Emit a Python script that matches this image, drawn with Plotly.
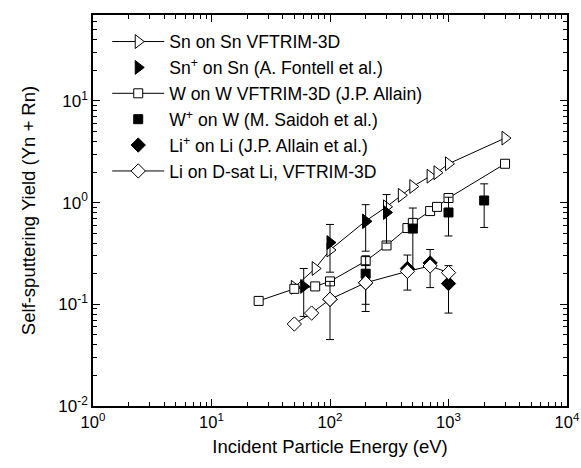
import plotly.graph_objects as go
import numpy as np

# ---- data ----
sn_vf_E = [50, 75, 100, 200, 300, 400, 500, 700, 800, 1000, 3000]
sn_vf_Y = [0.147, 0.225, 0.342, 0.66, 0.91, 1.18, 1.44, 1.82, 1.97, 2.41, 4.31]

sn_exp_E = [60, 100, 200, 300]
sn_exp_Y = [0.15, 0.405, 0.65, 0.80]
sn_exp_hi = [0.225, 0.61, 0.955, 1.2]
sn_exp_lo = [0.076, 0.207, 0.333, 0.40]

w_vf_E = [25, 50, 75, 100, 200, 300, 450, 500, 700, 800, 1000, 3000]
w_vf_Y = [0.108, 0.142, 0.15, 0.168, 0.266, 0.379, 0.562, 0.632, 0.826, 0.908, 1.11, 2.41]

w_exp_E = [200, 500, 1000, 2000]
w_exp_Y = [0.2, 0.556, 0.80, 1.05]
w_exp_hi = [0.30, 0.885, 1.13, 1.53]
w_exp_lo = [0.10, 0.22, 0.47, 0.57]

li_exp_E = [100, 200, 450, 700, 1000]
li_exp_Y = [0.112, 0.163, 0.225, 0.255, 0.16]
li_exp_hi = [0.168, 0.245, 0.305, 0.346, 0.24]
li_exp_lo = [0.045, 0.085, 0.138, 0.146, 0.082]

li_vf_E = [50, 70, 100, 200, 450, 700, 1000]
li_vf_Y = [0.064, 0.082, 0.112, 0.163, 0.211, 0.238, 0.205]

names = [
    "Sn on Sn VFTRIM-3D",
    "Sn<sup>+</sup> on Sn (A. Fontell et al.)",
    "W on W VFTRIM-3D (J.P. Allain)",
    "W<sup>+</sup> on W (M. Saidoh et al.)",
    "Li<sup>+</sup> on Li (J.P. Allain et al.)",
    "Li on D-sat Li, VFTRIM-3D",
]

x_tickvals = [1, 10, 100, 1000, 10000]
x_ticktext = ["10<sup>0</sup>", "10<sup>1</sup>", "10<sup>2</sup>", "10<sup>3</sup>", "10<sup>4</sup>"]
y_tickvals = [0.01, 0.1, 1, 10]
y_ticktext = ["10<sup>-2</sup>", "10<sup>-1</sup>", "10<sup>0</sup>", "10<sup>1</sup>"]

FONT = "Arial, Liberation Sans, sans-serif"


def err(y, hi, lo):
    return dict(type="data", symmetric=False,
                array=list(np.array(hi) - np.array(y)),
                arrayminus=list(np.array(y) - np.array(lo)),
                color="black", thickness=1, width=4)


fig = go.Figure()

fig.add_trace(go.Scatter(x=sn_vf_E, y=sn_vf_Y, mode="lines+markers", name=names[0], legendrank=1,
                         line=dict(color="black", width=1),
                         marker=dict(symbol="triangle-right", size=12, color="white",
                                     line=dict(color="black", width=1))))
fig.add_trace(go.Scatter(x=w_vf_E, y=w_vf_Y, mode="lines+markers", name=names[2], legendrank=3,
                         line=dict(color="black", width=1),
                         marker=dict(symbol="square", size=9, color="white",
                                     line=dict(color="black", width=1))))
fig.add_trace(go.Scatter(x=sn_exp_E, y=sn_exp_Y, mode="markers", name=names[1], legendrank=2,
                         error_y=err(sn_exp_Y, sn_exp_hi, sn_exp_lo),
                         marker=dict(symbol="triangle-right", size=12, color="black",
                                     line=dict(color="black", width=1))))
fig.add_trace(go.Scatter(x=w_exp_E, y=w_exp_Y, mode="markers", name=names[3], legendrank=4,
                         error_y=err(w_exp_Y, w_exp_hi, w_exp_lo),
                         marker=dict(symbol="square", size=9, color="black",
                                     line=dict(color="black", width=1))))
fig.add_trace(go.Scatter(x=li_exp_E, y=li_exp_Y, mode="markers", name=names[4], legendrank=5,
                         error_y=err(li_exp_Y, li_exp_hi, li_exp_lo),
                         marker=dict(symbol="diamond", size=11, color="black",
                                     line=dict(color="black", width=1))))
fig.add_trace(go.Scatter(x=li_vf_E, y=li_vf_Y, mode="lines+markers", name=names[5], legendrank=6,
                         line=dict(color="black", width=1),
                         marker=dict(symbol="diamond", size=11, color="white",
                                     line=dict(color="black", width=1))))

minor_x = [m * 10 ** d for d in range(0, 4) for m in range(2, 10)]
minor_y = [m * 10.0 ** d for d in range(-2, 2) for m in range(2, 10)]

axis_common = dict(showline=True, linecolor="black", linewidth=1.5, mirror="ticks",
                   ticks="inside", ticklen=7, tickwidth=1.2, tickcolor="black",
                   showgrid=False, zeroline=False, ticklabeloverflow="allow",
                   tickfont=dict(family=FONT, size=17, color="black"))

fig.update_xaxes(type="log", range=[0, 4], tickmode="array", tickvals=x_tickvals, ticktext=x_ticktext,
                 minor=dict(tickmode="array", tickvals=minor_x, ticks="inside", ticklen=4,
                            tickcolor="black", tickwidth=1, showgrid=False),
                 title=dict(text="Incident Particle Energy (eV)", font=dict(family=FONT, size=18.5, color="black"),
                            standoff=11),
                 **axis_common)
fig.update_xaxes(tickfont=dict(family=FONT, size=16.5, color="black"))
fig.update_yaxes(type="log", range=[-2, np.log10(70)], tickmode="array", tickvals=y_tickvals,
                 ticktext=y_ticktext,
                 minor=dict(tickmode="array", tickvals=minor_y, ticks="inside", ticklen=4,
                            tickcolor="black", tickwidth=1, showgrid=False),
                 title=dict(text="Self-sputtering Yield (Yn + Rn)", font=dict(family=FONT, size=18.5, color="black"),
                            standoff=18),
                 **axis_common)

fig.update_layout(
    width=581, height=468,
    margin=dict(l=93, r=14, t=15, b=62, autoexpand=False),
    paper_bgcolor="white", plot_bgcolor="white",
    showlegend=True,
    legend=dict(x=0.03, y=0.978, xanchor="left", yanchor="top",
                bgcolor="rgba(0,0,0,0)", borderwidth=0,
                font=dict(family=FONT, size=17.6, color="black"),
                itemwidth=52, tracegroupgap=0),
    font=dict(family=FONT, color="black"),
)

# remove the default page margin so the 581x468 figure fills the window exactly
fig.write_html("out.html", config={"displayModeBar": False},
               post_script="document.body.style.margin='0';document.body.style.overflow='hidden';")
